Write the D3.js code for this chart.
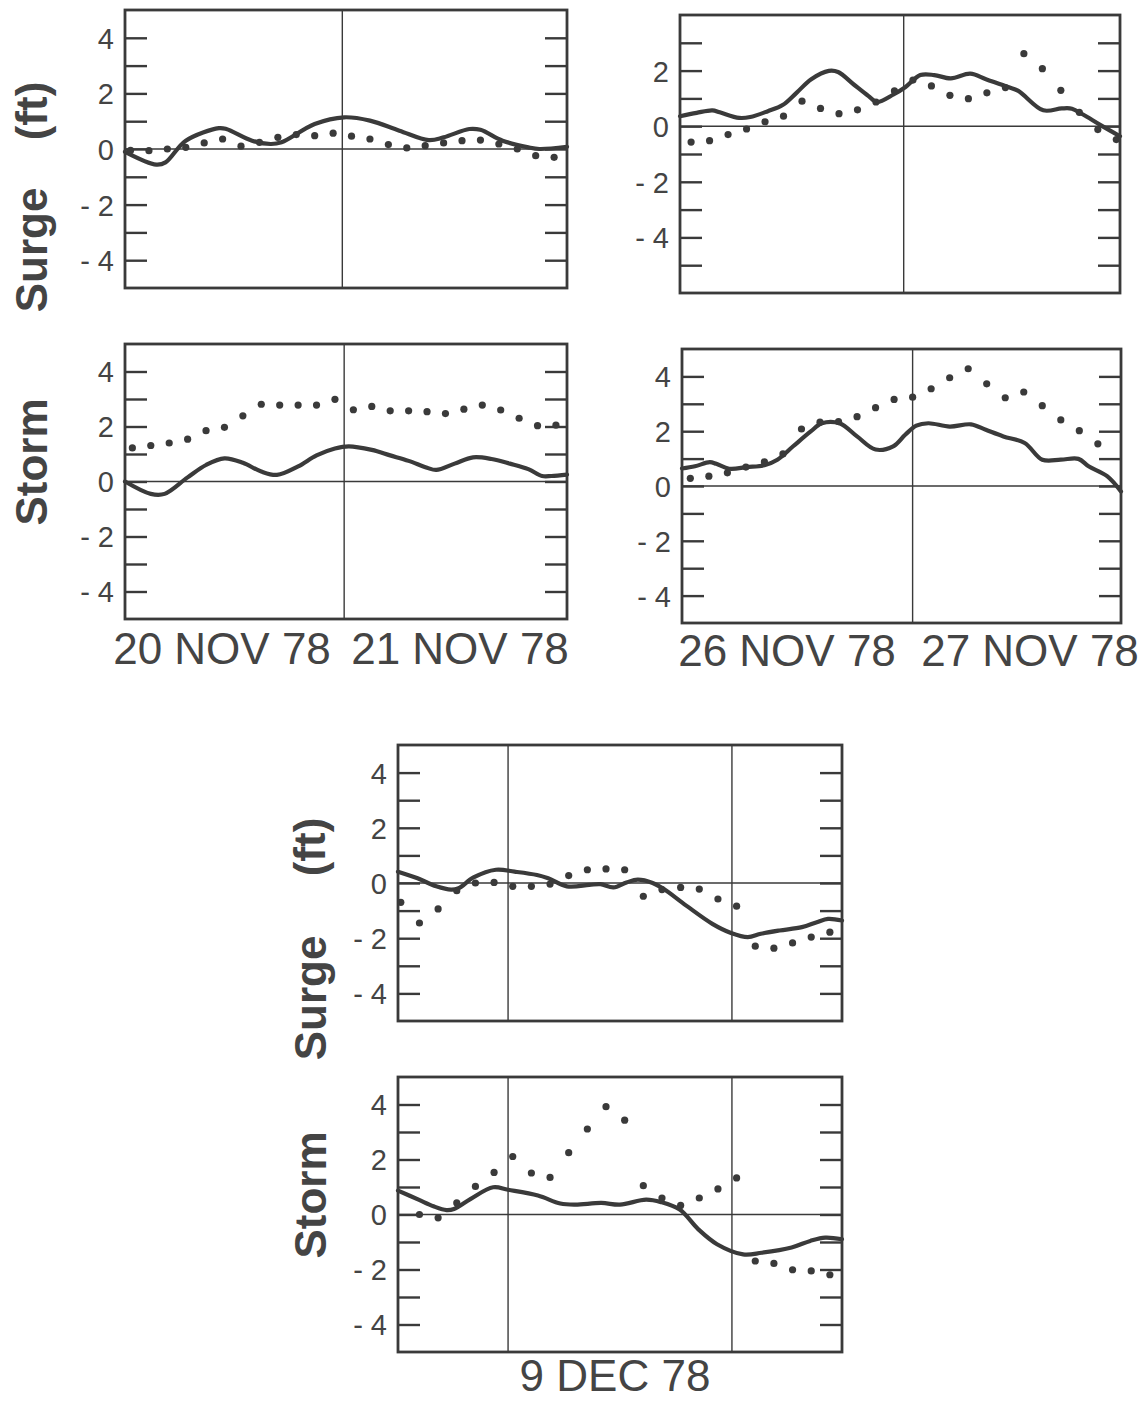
<!DOCTYPE html>
<html>
<head>
<meta charset="utf-8">
<script src="https://cdn.jsdelivr.net/npm/d3@7"></script>
<style>
  html, body { margin: 0; padding: 0; background: #ffffff; }
  svg { display: block; }
  text { font-family: "Liberation Sans", Arial, Helvetica, sans-serif; fill: #444444; }
</style>
</head>
<body>
<svg id="chart" width="1142" height="1402"></svg>
<script>
// ---------------- DATA ----------------
// tick values
const yMajorTicks = [-4, -2, 0, 2, 4];
const yMinorTicksA = [-4, -3, -2, -1, 0, 1, 2, 3, 4];
const yMinorTicksC = [-5, -4, -3, -2, -1, 0, 1, 2, 3];
const yMajorTicksC = [-4, -2, 0, 2];

// date labels
const labelsNov20 = ["20 NOV 78", "21 NOV 78"];
const labelsNov26 = ["26 NOV 78", "27 NOV 78"];
const labelsDec9 = ["9 DEC 78"];

// midnight markers (hours)
const midnightNov = [0];
const midnightDec = [0, 24];

// Panel A: 20-21 Nov surge (hours from midnight 21 Nov)
const dotHoursA = [-23,-21,-19,-17,-15,-13,-11,-9,-7,-5,-3,-1,1,3,5,7,9,11,13,15,17,19,21,23];
const dotValsA  = [-0.05,-0.06,0.0,0.06,0.22,0.36,0.1,0.24,0.42,0.52,0.48,0.57,0.46,0.36,0.16,0.04,0.12,0.22,0.3,0.32,0.18,0.0,-0.24,-0.3];
const lineHoursA = [-23.6,-20.2,-19.2,-17,-13.4,-12.6,-9.8,-7.8,-6.6,-3,0.2,3,6.2,9.4,11,13.8,15,17.4,20.2,21.4,24.4];
const lineValsA  = [-0.1,-0.56,-0.48,0.3,0.75,0.72,0.3,0.18,0.24,0.9,1.14,1.02,0.66,0.32,0.42,0.72,0.69,0.3,0.06,0.0,0.08];

// Panel B: 20-21 Nov storm
const dotHoursB = [-23,-21,-19,-17,-15,-13,-11,-9,-7,-5,-3,-1,1,3,5,7,9,11,13,15,17,19,21,23];
const dotValsB  = [1.22,1.31,1.40,1.54,1.85,1.97,2.39,2.81,2.78,2.78,2.78,2.99,2.61,2.73,2.57,2.57,2.54,2.47,2.63,2.78,2.60,2.30,2.03,2.05];
const lineHoursB = [-23.8,-21,-19.5,-17,-15,-13,-11,-9,-7.3,-5,-3,-1,0.5,3,5,7,9,10,12,14,16,18,20,21.5,22.5,24.2];
const lineValsB  = [0.0,-0.45,-0.45,0.15,0.6,0.84,0.68,0.36,0.24,0.55,0.95,1.2,1.28,1.15,0.95,0.75,0.5,0.42,0.65,0.88,0.82,0.65,0.45,0.2,0.2,0.25];

// Panel C: 26-27 Nov surge
const dotHoursC = [-23,-21,-19,-17,-15,-13,-11,-9,-7,-5,-3,-1,1,3,5,7,9,11,13,15,17,19,21,23];
const dotValsC  = [-0.57,-0.52,-0.3,-0.1,0.16,0.36,0.9,0.64,0.45,0.59,0.87,1.27,1.66,1.45,1.11,0.99,1.2,1.39,2.61,2.07,1.29,0.5,-0.12,-0.48];
const lineHoursC = [-24.2,-22.4,-20.7,-19.9,-17.8,-16.6,-14.7,-13.1,-11.6,-10.0,-8.1,-7.1,-5.4,-3.8,-2.9,-1.1,0.2,1.8,3.3,5.1,7.2,8.9,11.3,12.4,15.1,17.1,18.2,19.4,21.3,23.4];
const lineValsC  = [0.36,0.48,0.57,0.5,0.3,0.33,0.54,0.76,1.2,1.69,1.99,1.95,1.5,1.08,0.87,1.14,1.41,1.84,1.84,1.72,1.89,1.69,1.41,1.27,0.57,0.64,0.63,0.42,0.04,-0.36];

// Panel D: 26-27 Nov storm
const dotHoursD = [-24,-22,-20,-18,-16,-14,-12,-10,-8,-6,-4,-2,0,2,4,6,8,10,12,14,16,18,20];
const dotValsD  = [0.28,0.36,0.48,0.69,0.88,1.17,2.08,2.33,2.35,2.53,2.86,3.16,3.24,3.55,3.95,4.28,3.73,3.22,3.43,2.93,2.41,2.02,1.54];
const lineHoursD = [-24.9,-23.5,-21.9,-21.2,-19.8,-17.9,-16,-14.6,-12.9,-11,-9.8,-7.9,-6,-4,-2.1,-0.8,0.4,1.7,4,6.3,7.9,9.8,12.1,14,16,17.9,19,21,22.5];
const lineValsD  = [0.64,0.72,0.87,0.81,0.63,0.69,0.76,0.96,1.45,1.99,2.29,2.29,1.81,1.33,1.45,1.87,2.2,2.29,2.17,2.25,2.05,1.81,1.57,0.96,0.96,0.99,0.72,0.36,-0.2];

// Panel E: 9 Dec surge (hours from midnight 9 Dec)
const dotHoursE = [-11.5,-9.5,-7.5,-5.5,-3.5,-1.5,0.5,2.5,4.5,6.5,8.5,10.5,12.5,14.5,16.5,18.5,20.5,22.5,24.5,26.5,28.5,30.5,32.5,34.5];
const dotValsE  = [-0.7,-1.45,-0.94,-0.28,0.0,0.02,-0.12,-0.12,-0.04,0.27,0.48,0.51,0.48,-0.48,-0.24,-0.16,-0.22,-0.58,-0.84,-2.29,-2.36,-2.17,-1.96,-1.78];
const lineHoursE = [-11.8,-9.7,-7.7,-6.1,-5.3,-3.7,-1.3,0.7,3.1,4.3,6.3,8.7,9.9,11.3,12.7,13.9,15.5,16.7,19.1,21.9,23.9,25.7,27.1,29.1,31.5,33.1,34.3,35.8];
const lineValsE  = [0.41,0.17,-0.12,-0.24,-0.19,0.2,0.48,0.41,0.29,0.17,-0.12,-0.07,-0.04,-0.16,0.02,0.12,0.0,-0.22,-0.82,-1.48,-1.81,-1.96,-1.84,-1.72,-1.6,-1.42,-1.3,-1.36];

// Panel F: 9 Dec storm
const dotHoursF = [-9.5,-7.5,-5.5,-3.5,-1.5,0.5,2.5,4.5,6.5,8.5,10.5,12.5,14.5,16.5,18.5,20.5,22.5,24.5,26.5,28.5,30.5,32.5,34.5];
const dotValsF  = [0.0,-0.12,0.42,1.02,1.53,2.11,1.51,1.35,2.25,3.11,3.92,3.43,1.05,0.6,0.33,0.6,0.93,1.33,-1.69,-1.78,-2.01,-2.05,-2.19];
const lineHoursF = [-11.8,-9.6,-8,-6.6,-5.8,-4,-1.6,0,3.2,5.6,7.2,10,12,14.8,16.4,18.4,20.4,22.4,25.2,27.2,30.4,32.4,34,35.8];
const lineValsF  = [0.87,0.54,0.3,0.16,0.2,0.57,0.99,0.9,0.69,0.4,0.36,0.42,0.36,0.54,0.45,0.18,-0.54,-1.08,-1.45,-1.39,-1.2,-0.96,-0.84,-0.9];

// ---------------- DRAW ----------------
const INK = "#3a3a3a";
const svg = d3.select("#chart");
svg.append("rect").attr("width", 1142).attr("height", 1402).attr("fill", "#ffffff");

const fmt = v => v < 0 ? "- " + Math.abs(v) : String(v);

function panel(p) {
  const w = p.x1 - p.x0, h = p.y1 - p.y0;
  const x = d3.scaleLinear().domain(p.xDomain).range([0, w]);
  const y = d3.scaleLinear().domain(p.yDomain).range([h, 0]);
  const g = svg.append("g").attr("transform", `translate(${p.x0},${p.y0})`);

  // zero line
  g.append("line")
    .attr("x1", 0).attr("x2", w).attr("y1", y(0)).attr("y2", y(0))
    .attr("stroke", INK).attr("stroke-width", 1.4);
  // midnight lines
  g.selectAll("line.mid").data(p.midnights).join("line").attr("class", "mid")
    .attr("x1", d => x(d)).attr("x2", d => x(d)).attr("y1", 0).attr("y2", h)
    .attr("stroke", INK).attr("stroke-width", 1.4);

  // inside ticks left / right
  const axL = g.append("g").call(d3.axisLeft(y).tickValues(p.minor).tickSize(-22).tickFormat(""));
  const axR = g.append("g").attr("transform", `translate(${w},0)`)
    .call(d3.axisRight(y).tickValues(p.minor).tickSize(-22).tickFormat(""));
  [axL, axR].forEach(a => {
    a.select(".domain").remove();
    a.selectAll(".tick line").attr("stroke", INK).attr("stroke-width", 2.4);
  });
  // labels
  const axLab = g.append("g").call(d3.axisLeft(y).tickValues(p.major).tickSize(0).tickPadding(11).tickFormat(fmt));
  axLab.select(".domain").remove();
  axLab.selectAll("text")
    .style("font-family", '"Liberation Sans", Arial, sans-serif')
    .attr("font-size", 29).attr("fill", "#444444").attr("dy", "0.36em");

  // solid line
  const line = d3.line().x(d => x(d[0])).y(d => y(d[1])).curve(d3.curveCatmullRom.alpha(0.5));
  const pts = p.lineH.map((t, i) => [t, p.lineV[i]]);
  g.append("path").attr("d", line(pts)).attr("fill", "none")
    .attr("stroke", INK).attr("stroke-width", 4.2).attr("stroke-linejoin", "round").attr("stroke-linecap", "round");

  // dots
  g.selectAll("circle.dot").data(p.dotH.map((t, i) => [t, p.dotV[i]])).join("circle")
    .attr("class", "dot").attr("cx", d => x(d[0])).attr("cy", d => y(d[1])).attr("r", 3.6).attr("fill", INK);

  // frame
  g.append("rect").attr("width", w).attr("height", h).attr("fill", "none")
    .attr("stroke", INK).attr("stroke-width", 2.8);
}

panel({x0:125, x1:567, y0:10, y1:288, xDomain:[-23.6,24.4], yDomain:[-5,5], minor:yMinorTicksA, major:yMajorTicks,
  midnights:midnightNov, dotH:dotHoursA, dotV:dotValsA, lineH:lineHoursA, lineV:lineValsA});
panel({x0:125, x1:567, y0:344, y1:619, xDomain:[-23.8,24.2], yDomain:[-5,5], minor:yMinorTicksA, major:yMajorTicks,
  midnights:midnightNov, dotH:dotHoursB, dotV:dotValsB, lineH:lineHoursB, lineV:lineValsB});
panel({x0:680, x1:1120, y0:15, y1:293, xDomain:[-24.2,23.4], yDomain:[-6,4], minor:yMinorTicksC, major:yMajorTicksC,
  midnights:midnightNov, dotH:dotHoursC, dotV:dotValsC, lineH:lineHoursC, lineV:lineValsC});
panel({x0:682, x1:1121, y0:349, y1:623, xDomain:[-24.9,22.5], yDomain:[-5,5], minor:yMinorTicksA, major:yMajorTicks,
  midnights:midnightNov, dotH:dotHoursD, dotV:dotValsD, lineH:lineHoursD, lineV:lineValsD});
panel({x0:398, x1:842, y0:745, y1:1021, xDomain:[-11.8,35.8], yDomain:[-5,5], minor:yMinorTicksA, major:yMajorTicks,
  midnights:midnightDec, dotH:dotHoursE, dotV:dotValsE, lineH:lineHoursE, lineV:lineValsE});
panel({x0:398, x1:842, y0:1077, y1:1352, xDomain:[-11.8,35.8], yDomain:[-5,5], minor:yMinorTicksA, major:yMajorTicks,
  midnights:midnightDec, dotH:dotHoursF, dotV:dotValsF, lineH:lineHoursF, lineV:lineValsF});

// date labels
function dateLabel(txt, cx, baseline) {
  svg.append("text").attr("x", cx).attr("y", baseline).attr("text-anchor", "middle")
    .attr("font-size", 44).text(txt);
}
dateLabel(labelsNov20[0], 222, 664);
dateLabel(labelsNov20[1], 460, 664);
dateLabel(labelsNov26[0], 787, 666);
dateLabel(labelsNov26[1], 1030, 666);
dateLabel(labelsDec9[0], 615, 1391);

// y-axis titles (rotated)
function yTitle(txt, cx, cy) {
  svg.append("text").attr("transform", `translate(${cx},${cy}) rotate(-90)`)
    .attr("text-anchor", "middle").attr("dy", "0.36em")
    .attr("font-size", 44).attr("font-weight", "bold").text(txt);
}
yTitle("(ft)", 31, 111);
yTitle("Surge", 31, 250);
yTitle("Storm", 31, 462);
yTitle("(ft)", 309, 847);
yTitle("Surge", 310, 998);
yTitle("Storm", 310, 1195);
</script>
</body>
</html>
